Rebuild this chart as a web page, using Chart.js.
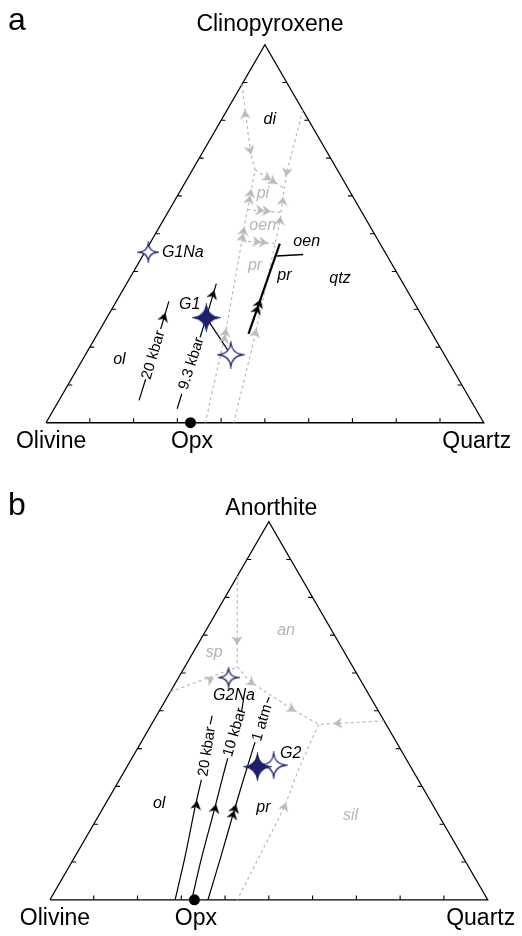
<!DOCTYPE html>
<html><head><meta charset="utf-8">
<script src="https://cdn.jsdelivr.net/npm/chart.js@4.4.0/dist/chart.umd.min.js"></script>
<style>html,body{margin:0;padding:0;background:#fff;}canvas{display:block;}</style>
</head><body>
<canvas id="ca" width="522" height="468"></canvas>
<canvas id="cb" width="522" height="468"></canvas>
<script>
// ---------- DATA (ternary compositions: [Quartz %, apex component %]) ----------
// Panel a: Olivine - Clinopyroxene - Quartz
const aCorners = ['Olivine', 'Clinopyroxene', 'Quartz', 'Opx'];
const aOpx = [[33.0, 0]];
const tickValues = [10, 20, 30, 40, 50, 60, 70, 80, 90];
const aBoundLeft = [[0, 89.5], [10.9, 71.6], [14.3, 66.9], [18.8, 53.5], [28.9, 24.4], [36.4, 0]];
const aBoundRight = [[17.3, 82.7], [22.0, 65.9], [23.4, 62.0], [26.9, 53.0], [36.1, 23.4], [42.9, 0]];
const aBoundPi = [[14.3, 66.9], [23.4, 62.0]];
const aBoundOen = [[17.8, 56.4], [25.9, 55.6]];
const aBoundPr = [[20.7, 48.1], [28.7, 47.4]];
const aOenPr = [[34.5, 23.5], [29.7, 47.4]];
const aOenPrBranch = [[30.6, 44.1], [36.5, 44.5]];
const a20kbar = [[18.3, 5.9], [17.0, 11.5], null, [13.8, 24.8], [12.0, 32.1]];
const a93kbar = [[28.1, 3.7], [27.2, 7.6], null, [23.9, 22.6], [22.7, 27.8], [20.5, 36.8]];
const aG1Tie = [[22.7, 27.8], [33.2, 18.0]];
const aG1 = [[22.7, 27.8]];
const aG1Open = [[33.2, 18.0]];
const aG1Na = [[0.8, 45.1]];
const aArrowsGray = [
  {at: [4.8, 81.4], to: [0, 89.5], n: 1},
  {at: [10.5, 72.2], to: [14.3, 66.9], n: 1},
  {at: [21.8, 66.4], to: [23.4, 62.0], n: 1},
  {at: [18.9, 64.4], to: [23.4, 62.0], n: 2},
  {at: [16.7, 59.7], to: [14.3, 66.9], n: 2},
  {at: [21.5, 56.1], to: [25.9, 55.6], n: 2},
  {at: [24.8, 58.5], to: [23.4, 62.0], n: 1},
  {at: [26.8, 53.3], to: [23.4, 62.0], n: 1},
  {at: [20.1, 49.7], to: [18.8, 53.5], n: 2},
  {at: [24.9, 47.8], to: [28.7, 47.4], n: 2},
  {at: [29.4, 22.9], to: [18.8, 53.5], n: 2},
  {at: [36.0, 23.6], to: [26.9, 53.0], n: 1}
];
const aArrowsBlack = [
  {at: [21.2, 33.8], to: [20.5, 36.8], n: 1},
  {at: [13.0, 27.8], to: [12.0, 32.1], n: 1},
  {at: [33.1, 30.6], to: [29.7, 47.4], n: 2}
];
const aFieldLabels = [
  {t: 'di', at: [11.0, 80.2], gray: false},
  {t: 'pi', at: [19.3, 60.5], gray: true},
  {t: 'oen', at: [23.4, 52.2], gray: true},
  {t: 'pr', at: [27.0, 41.5], gray: true},
  {t: 'oen', at: [35.6, 47.9], gray: false},
  {t: 'pr', at: [35.0, 38.9], gray: false},
  {t: 'qtz', at: [48.1, 38.1], gray: false},
  {t: 'ol', at: [8.4, 16.7], gray: false},
  {t: 'G1', at: [17.2, 31.2], gray: false},
  {t: 'G1Na', at: [8.7, 45.1], gray: false}
];
const aLineLabels = [
  {t: '20 kbar', at: [15.6, 17.9], from: [17.0, 11.5], to: [13.8, 24.8]},
  {t: '9.3 kbar', at: [25.4, 15.7], from: [27.2, 7.6], to: [23.9, 22.6]}
];

// Panel b: Olivine - Anorthite - Quartz
const bCorners = ['Olivine', 'Anorthite', 'Quartz', 'Opx'];
const bOpx = [[33.0, 0]];
const bBoundAnSp = [[0, 85.6], [12.0, 61.6]];
const bBoundSpOl = [[0, 55.0], [12.0, 61.6]];
const bBoundAnOl = [[12.0, 61.6], [16.9, 57.7], [30.3, 50.3], [38.2, 46.4]];
const bBoundAnSil = [[52.6, 47.3], [38.2, 46.4]];
const bBoundPrSil = [[38.2, 46.4], [39.5, 34.8], [41.3, 24.5], [42.8, 0]];
const b20kbar = [[28.6, 0], [25.1, 11.6], [20.9, 24.5], [18.7, 31.8], null, [13.4, 46.4], [12.7, 48.7]];
const b10kbar = [[32.4, 0], [29.2, 10.7], [25.7, 23.6], [23.3, 32.2], [21.9, 37.4], null, [18.9, 49.7], [17.8, 52.8]];
const b1atm = [[36.1, 0], [33.3, 11.6], [30.7, 21.9], [28.2, 32.2], [26.0, 41.7], null, [23.5, 52.1], [23.3, 53.6]];
const bG2 = [[29.8, 35.2]];
const bG2Open = [[33.3, 35.6]];
const bG2Na = [[11.4, 58.8]];
const bArrowsGray = [
  {at: [8.4, 68.7], to: [12.0, 61.6], n: 1},
  {at: [7.4, 58.2], to: [12.0, 61.6], n: 1},
  {at: [17.2, 57.5], to: [30.3, 50.3], n: 1},
  {at: [29.9, 50.5], to: [38.2, 46.4], n: 1},
  {at: [42.5, 46.7], to: [38.2, 46.4], n: 1},
  {at: [41.3, 24.5], to: [39.5, 34.8], n: 1}
];
const bArrowsBlack = [
  {at: [21.0, 24.9], to: [18.7, 31.8], n: 1},
  {at: [25.7, 24.0], to: [23.3, 32.2], n: 1},
  {at: [30.4, 23.2], to: [28.2, 32.2], n: 2}
];
const bFieldLabels = [
  {t: 'an', at: [18.3, 71.3], gray: true},
  {t: 'sp', at: [4.9, 65.3], gray: true},
  {t: 'sil', at: [57.5, 22.3], gray: true},
  {t: 'ol', at: [12.2, 25.5], gray: false},
  {t: 'pr', at: [36.5, 24.5], gray: false},
  {t: 'G2Na', at: [15.1, 53.9], gray: false},
  {t: 'G2', at: [35.6, 38.8], gray: false}
];
const bLineLabels = [
  {t: '20 kbar', at: [16.3, 39.2], from: [18.7, 31.8], to: [13.4, 46.4]},
  {t: '10 kbar', at: [20.1, 44.3], from: [21.9, 37.4], to: [18.9, 49.7]},
  {t: '1 atm', at: [25.1, 46.8], from: [26.0, 41.7], to: [23.5, 52.1]}
];

// ---------- helpers ----------
const H = Math.sqrt(3) / 2;
const FONT = 'Arial, "Liberation Sans", Helvetica, sans-serif';
const GRAY = '#bababa';
const GRAY_TXT = '#b4b4b4';
const NAVY = '#1f1f6f';
function xy(p) { return p ? {x: p[0] + p[1] / 2, y: p[1] * H} : {x: null, y: null}; }

function makeArrow(color, n) {
  const c = document.createElement('canvas');
  c.width = 16; c.height = n === 2 ? 22 : 16;
  const g = c.getContext('2d');
  g.fillStyle = color;
  const cy = c.height / 2;
  (n === 2 ? [-3.2, 3.2] : [0]).forEach(o => {
    const y0 = cy + o;
    g.beginPath();
    g.moveTo(8, y0 - 5); g.lineTo(13.5, y0 + 4); g.lineTo(8, y0 + 1.2); g.lineTo(2.5, y0 + 4);
    g.closePath(); g.fill();
  });
  return c;
}
function makeStar(R, fill, stroke, kf) {
  const s = Math.ceil(2 * R + 4);
  const c = document.createElement('canvas');
  c.width = s; c.height = s;
  const g = c.getContext('2d');
  const cx = s / 2, cy = s / 2, k = R * kf;
  g.beginPath();
  g.moveTo(cx, cy - R);
  g.quadraticCurveTo(cx + k, cy - k, cx + R, cy);
  g.quadraticCurveTo(cx + k, cy + k, cx, cy + R);
  g.quadraticCurveTo(cx - k, cy + k, cx - R, cy);
  g.quadraticCurveTo(cx - k, cy - k, cx, cy - R);
  g.closePath();
  g.fillStyle = fill; g.fill();
  if (stroke) { g.strokeStyle = stroke; g.lineWidth = 1.3; g.stroke(); }
  return c;
}
const arrowImg = {
  gray: {1: makeArrow(GRAY, 1), 2: makeArrow(GRAY, 2)},
  black: {1: makeArrow('#000', 1), 2: makeArrow('#000', 2)}
};
const starFilled = makeStar(12.5, NAVY, NAVY, 0.14);
const starOpen = makeStar(12, '#fff', '#24247c', 0.1);
const starOpenSmall = makeStar(9, '#fff', '#24247c', 0.1);

function lineDS(pts, color, width, dash, order, tension) {
  return {data: pts.map(xy), showLine: true, borderColor: color, borderWidth: width,
    borderDash: dash || [], pointRadius: 0, pointHoverRadius: 0, fill: false,
    order: order, clip: false, spanGaps: false, tension: tension || 0};
}
function pointDS(pts, style, radius, order, color) {
  return {data: pts.map(xy), showLine: false, pointStyle: style, pointRadius: radius,
    backgroundColor: color || '#000', borderColor: color || '#000', borderWidth: 0,
    order: order, clip: false};
}
function arrowDS(arrows, kind, order) {
  return {data: arrows.map(a => xy(a.at)), showLine: false,
    pointStyle: arrows.map(a => arrowImg[kind][a.n]),
    rotation: arrows.map(a => {
      const A = xy(a.at), B = xy(a.to);
      return Math.atan2(B.x - A.x, B.y - A.y) * 180 / Math.PI;
    }),
    pointRadius: 5, order: order, clip: false};
}
function frameDatasets() {
  const edge = [[0, 0], [100, 0], [0, 100], [0, 0]];
  const L = 1.0; // tick length in side-% units
  const ticks = [];
  tickValues.forEach(v => {
    const b = xy([v, 0]); ticks.push({x: b.x, y: 0}, {x: b.x, y: L}, {x: null, y: null});
    const l = xy([0, v]); ticks.push({x: l.x, y: l.y}, {x: l.x + L, y: l.y}, {x: null, y: null});
    const r = xy([100 - v, v]); ticks.push({x: r.x, y: r.y}, {x: r.x - L, y: r.y}, {x: null, y: null});
  });
  return [
    lineDS(edge, '#000', 1.3, null, 6),
    {data: ticks, showLine: true, borderColor: '#000', borderWidth: 1.1, pointRadius: 0,
      fill: false, order: 6, clip: false, spanGaps: false}
  ];
}

const ternaryLabels = {
  id: 'ternaryLabels',
  afterDatasetsDraw(chart, _args, o) {
    const ctx = chart.ctx, sx = chart.scales.x, sy = chart.scales.y;
    const pix = p => { const q = xy(p); return [sx.getPixelForValue(q.x), sy.getPixelForValue(q.y)]; };
    ctx.save();
    ctx.textAlign = 'center'; ctx.textBaseline = 'middle';
    o.fields.forEach(f => {
      const [x, y] = pix(f.at);
      ctx.font = 'italic 16px ' + FONT;
      ctx.fillStyle = f.gray ? GRAY_TXT : '#000';
      ctx.fillText(f.t, x, y);
    });
    o.lineLabels.forEach(l => {
      const [x, y] = pix(l.at), a = pix(l.from), b = pix(l.to);
      ctx.save();
      ctx.translate(x, y);
      ctx.rotate(Math.atan2(b[1] - a[1], b[0] - a[0]));
      ctx.font = '15px ' + FONT; ctx.fillStyle = '#000';
      ctx.fillText(l.t, 0, 0);
      ctx.restore();
    });
    const v0 = pix([0, 0]), v1 = pix([0, 100]), v2 = pix([100, 0]), op = pix(o.opx);
    ctx.fillStyle = '#000'; ctx.textBaseline = 'alphabetic'; ctx.font = '23px ' + FONT;
    ctx.fillText(o.corners[0], v0[0] + 5, v0[1] + 25);
    ctx.fillText(o.corners[1], v1[0] + o.topDx, v1[1] - o.topDy);
    ctx.fillText(o.corners[2], v2[0] - 7, v2[1] + 25);
    ctx.fillText(o.corners[3], op[0] + 1.5, op[1] + 25);
    ctx.textAlign = 'left'; ctx.font = '32px ' + FONT;
    ctx.fillText(o.letter, 8, o.letterY);
    ctx.restore();
  }
};

function makeChart(id, origin, datasets, labelOpts) {
  const u = 4.48; // px per side-%
  return new Chart(document.getElementById(id), {
    type: 'scatter',
    data: {datasets: datasets},
    options: {
      responsive: false, animation: false, events: [], devicePixelRatio: 1,
      layout: {padding: 0},
      scales: {
        x: {type: 'linear', display: false, min: -origin[0] / u, max: (522 - origin[0]) / u},
        y: {type: 'linear', display: false, min: -(468 - origin[1]) / u, max: origin[1] / u}
      },
      plugins: {legend: {display: false}, tooltip: {enabled: false}, ternaryLabels: labelOpts}
    },
    plugins: [ternaryLabels]
  });
}

const dash = [3, 3];
makeChart('ca', [41, 427.7], [
  ...frameDatasets(),
  lineDS(aBoundLeft, GRAY, 1.2, dash, 5),
  lineDS(aBoundRight, GRAY, 1.2, dash, 5),
  lineDS(aBoundPi, GRAY, 1.2, dash, 5),
  lineDS(aBoundOen, GRAY, 1.2, dash, 5),
  lineDS(aBoundPr, GRAY, 1.2, dash, 5),
  lineDS(aOenPr, '#000', 2.2, null, 4),
  lineDS(aOenPrBranch, '#000', 1.6, null, 4),
  lineDS(a20kbar, '#000', 1.2, null, 4),
  lineDS(a93kbar, '#000', 1.2, null, 4),
  lineDS(aG1Tie, '#000', 1.2, null, 4),
  arrowDS(aArrowsGray, 'gray', 3),
  arrowDS(aArrowsBlack, 'black', 3),
  pointDS(aOpx, 'circle', 5.5, 2),
  pointDS(aG1Open, starOpen, 6, 1),
  pointDS(aG1Na, starOpenSmall, 6, 1),
  pointDS(aG1, starFilled, 6, 0)
], {fields: aFieldLabels, lineLabels: aLineLabels, corners: aCorners, opx: aOpx[0],
    topDx: 5, topDy: 14, letter: 'a', letterY: 30});

makeChart('cb', [45, 437], [
  ...frameDatasets(),
  lineDS(bBoundAnSp, GRAY, 1.2, dash, 5),
  lineDS(bBoundSpOl, GRAY, 1.2, dash, 5),
  lineDS(bBoundAnOl, GRAY, 1.2, dash, 5),
  lineDS(bBoundAnSil, GRAY, 1.2, dash, 5),
  lineDS(bBoundPrSil, GRAY, 1.2, dash, 5),
  lineDS(b20kbar, '#000', 1.2, null, 4, 0.25),
  lineDS(b10kbar, '#000', 1.2, null, 4, 0.25),
  lineDS(b1atm, '#000', 1.2, null, 4, 0.25),
  arrowDS(bArrowsGray, 'gray', 3),
  arrowDS(bArrowsBlack, 'black', 3),
  pointDS(bOpx, 'circle', 5.5, 2),
  pointDS(bG2Na, starOpenSmall, 6, 1),
  pointDS(bG2Open, starOpen, 6, 1),
  pointDS(bG2, starFilled, 6, 0)
], {fields: bFieldLabels, lineLabels: bLineLabels, corners: bCorners, opx: bOpx[0],
    topDx: 2.5, topDy: 7, letter: 'b', letterY: 47});
</script>
</body></html>
